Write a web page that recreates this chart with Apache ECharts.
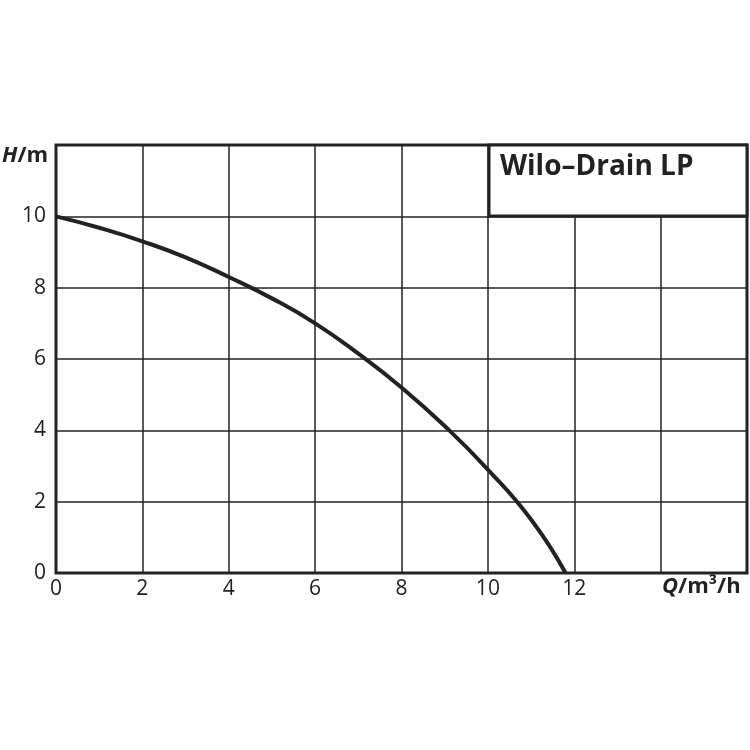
<!DOCTYPE html>
<html>
<head>
<meta charset="UTF-8">
<script src="https://cdn.jsdelivr.net/npm/echarts@6/dist/echarts.min.js"></script>
<style>html,body{margin:0;background:#fff}#c{width:750px;height:750px}</style>
</head>
<body>
<div id="c"></div>
<script>
var flowQ = [0, 1, 2, 3, 4, 5, 6, 7, 8, 9, 10, 11, 11.8];
var headH = [10, 9.68, 9.3, 8.85, 8.3, 7.7, 7.0, 6.15, 5.2, 4.12, 2.9, 1.5, 0];
var titleText = 'Wilo–Drain LP';

var chart = echarts.init(document.getElementById('c'));
var font = 'Open Sans';
chart.setOption({
    animation: false,
    grid: { left: 56, right: 3, top: 145, bottom: 177 },
    xAxis: {
        type: 'value', min: 0, max: 16, interval: 2,
        axisLine: { show: false }, axisTick: { show: false },
        splitLine: { lineStyle: { color: '#222', width: 1.5 } },
        axisLabel: {
            color: '#222', fontSize: 21, fontFamily: font, margin: 6,
            formatter: function (v) { return v <= 12 ? v : ''; }
        }
    },
    yAxis: {
        type: 'value', min: 0, max: 12, interval: 2,
        axisLine: { show: false }, axisTick: { show: false },
        splitLine: { lineStyle: { color: '#222', width: 1.5 } },
        axisLabel: {
            color: '#222', fontSize: 21, fontFamily: font, margin: 10,
            formatter: function (v) { return v <= 10 ? v : ''; }
        }
    },
    series: [{
        type: 'line', smooth: true, symbol: 'none',
        lineStyle: { color: '#222', width: 4 },
        data: flowQ.map(function (q, i) { return [q, headH[i]]; })
    }],
    graphic: [
        { type: 'rect', shape: { x: 56, y: 145, width: 691, height: 428 },
          style: { fill: 'none', stroke: '#222', lineWidth: 3 }, z: 10 },
        { type: 'rect', shape: { x: 489, y: 145, width: 258, height: 71 },
          style: { fill: '#fff', stroke: '#222', lineWidth: 3 }, z: 11 },
        { type: 'text', left: 500, top: 153, z: 12,
          style: { text: titleText, font: 'bold 28px "Open Sans"', fill: '#222' } },
        { type: 'text', left: 2, top: 145, z: 12,
          style: { text: '{i|H}/m', fill: '#222', font: 'bold 22px "Open Sans"',
                   rich: { i: { fontStyle: 'italic', fontWeight: 'bold', fontSize: 22, fontFamily: font } } } },
        { type: 'text', left: 662, top: 576, z: 12,
          style: { text: '{i|Q}/m³/h', fill: '#222', font: 'bold 22px "Open Sans"',
                   rich: { i: { fontStyle: 'italic', fontWeight: 'bold', fontSize: 22, fontFamily: font } } } }
    ]
});
</script>
</body>
</html>
